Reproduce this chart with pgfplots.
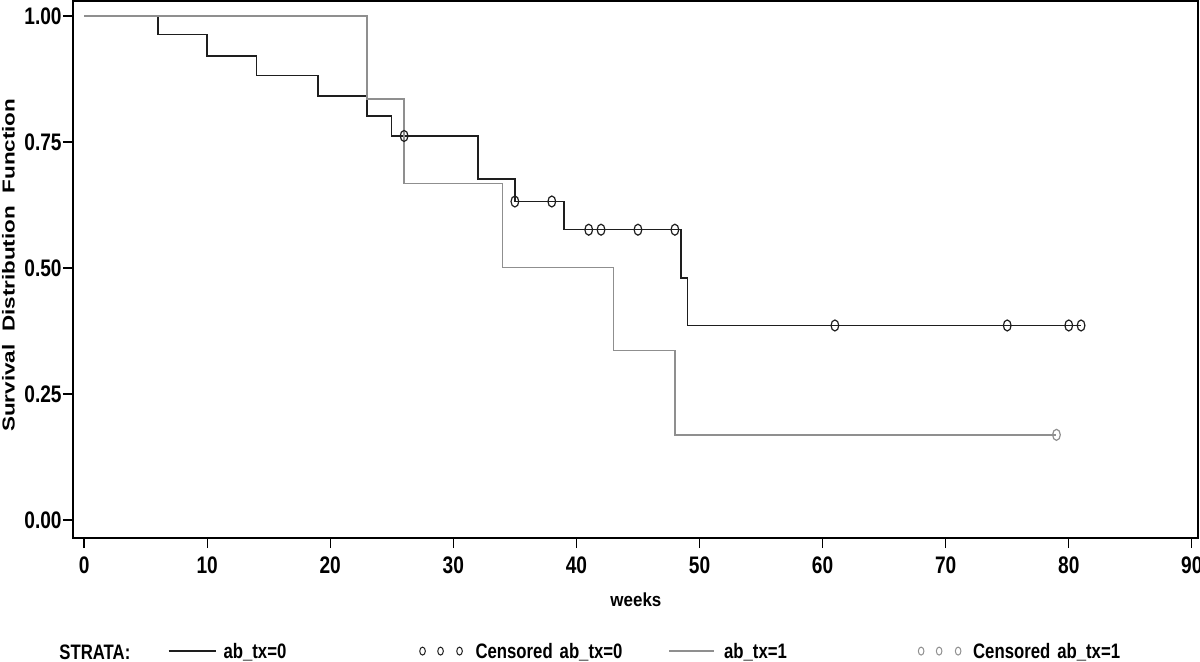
\documentclass[border=0pt]{standalone}
\usepackage{fontspec}
\setmainfont{Liberation Sans}[FakeStretch=0.8]
\usepackage{graphicx}
\usepackage{pgfplots}
\pgfplotsset{compat=1.18}
\definecolor{kmblack}{HTML}{1E1E1E}
\definecolor{kmgray}{HTML}{8F8F8F}
\begin{document}
\begin{tikzpicture}
\begin{axis}[
 scale only axis, width=562.5bp, height=268.5bp,
 xmin=-0.9, xmax=90.5, ymin=-0.0357, ymax=1.0298,
 xtick={0,10,...,90}, ytick={0,0.25,0.5,0.75,1},
 yticklabels={0.00,0.25,0.50,0.75,1.00},
 tick align=outside, major tick length=5bp, xtick pos=bottom, ytick pos=left,
 minor tick num=0,
 tick style={black, line width=0.6bp},
 axis line style={line width=1bp, black},
 /pgf/number format/assume math mode=true,
 ticklabel style={font=\fontsize{12}{13}\selectfont\bfseries},
 xticklabel style={inner sep=0pt, yshift=-4bp},
 yticklabel style={inner sep=0pt, xshift=-0.5bp},
 xlabel={\scalebox{1.12}[1]{weeks}},
 xlabel style={at={(axis description cs:0.5004,-0.1155)}, anchor=center, font=\fontsize{9.5}{11}\selectfont\bfseries},
 ylabel={\scalebox{1.62}[1]{Survival\ \ Distribution\ \ Function}},
 ylabel style={at={(axis description cs:-0.0573,0.508)}, anchor=center, font=\fontsize{8.7}{10}\selectfont\bfseries},
 legend columns=4,
 legend style={at={(axis description cs:0.0844,-0.2123)}, anchor=west, draw=none, fill=none, inner sep=0pt, outer sep=0pt, column sep=0pt,
   nodes={inner sep=0pt, anchor=base west, font=\fontsize{10.5}{12}\selectfont\bfseries}},
]
\addplot[kmblack, line width=0.7bp, const plot,
  legend image code/.code={\draw[kmblack, line width=0.6bp] (0bp,3.5bp) -- (23.5bp,3.5bp); \path[draw=none, fill=none] (0bp,0bp) rectangle (27.5bp,0.1bp);}]
  coordinates {(0,1) (6,0.963) (10,0.921) (14,0.882) (19,0.841) (23,0.802) (25,0.762) (32,0.677) (35,0.632) (39,0.576) (48.5,0.480) (49,0.386) (81,0.386)};
\addlegendentry[text width=98bp]{ab\_tx=0}
\addplot[only marks, kmblack, mark=o, mark size=2.75bp, mark options={xscale=0.7, line width=0.6bp},
  legend image code/.code={\draw[kmblack, line width=0.5bp, only marks, mark=o, mark size=2bp, mark options={xscale=0.7}] plot coordinates {(1.5bp,3.5bp) (10.5bp,3.5bp) (20bp,3.5bp)}; \path[draw=none, fill=none] (0bp,0bp) rectangle (28bp,0.1bp);}]
  coordinates {(26,0.762) (35,0.632) (38,0.632) (41,0.576) (42,0.576) (45,0.576) (48,0.576) (61,0.386) (75,0.386) (80,0.386) (81,0.386)};
\addlegendentry[text width=96.5bp]{Censored ab\_tx=0}
\addplot[kmgray, line width=0.7bp, const plot,
  legend image code/.code={\draw[kmgray, line width=0.6bp] (0bp,3.5bp) -- (22.5bp,3.5bp); \path[draw=none, fill=none] (0bp,0bp) rectangle (27.5bp,0.1bp);}]
  coordinates {(0,1) (23,0.835) (26,0.668) (34,0.501) (43,0.336) (48,0.169) (79,0.169)};
\addlegendentry[text width=97bp]{ab\_tx=1}
\addplot[only marks, kmgray, mark=o, mark size=2.75bp, mark options={xscale=0.7, line width=0.6bp},
  legend image code/.code={\draw[kmgray, line width=0.5bp, only marks, mark=o, mark size=2bp, mark options={xscale=0.7}] plot coordinates {(1.5bp,3.5bp) (10.5bp,3.5bp) (20bp,3.5bp)}; \path[draw=none, fill=none] (0bp,0bp) rectangle (27.5bp,0.1bp);}]
  coordinates {(79,0.169)};
\addlegendentry[text width=80bp]{Censored ab\_tx=1}
\coordinate (BL) at (rel axis cs:0,0);
\end{axis}
\node[anchor=west, inner sep=0pt, font=\fontsize{10.5}{12}\selectfont\bfseries] at ([shift={(-7bp,-57bp)}]BL) {STRATA:};
\pgfresetboundingbox
\path ([shift={(-36.5bp,-62bp)}]BL) rectangle ([shift={(563.5bp,269bp)}]BL);
\end{tikzpicture}
\end{document}
